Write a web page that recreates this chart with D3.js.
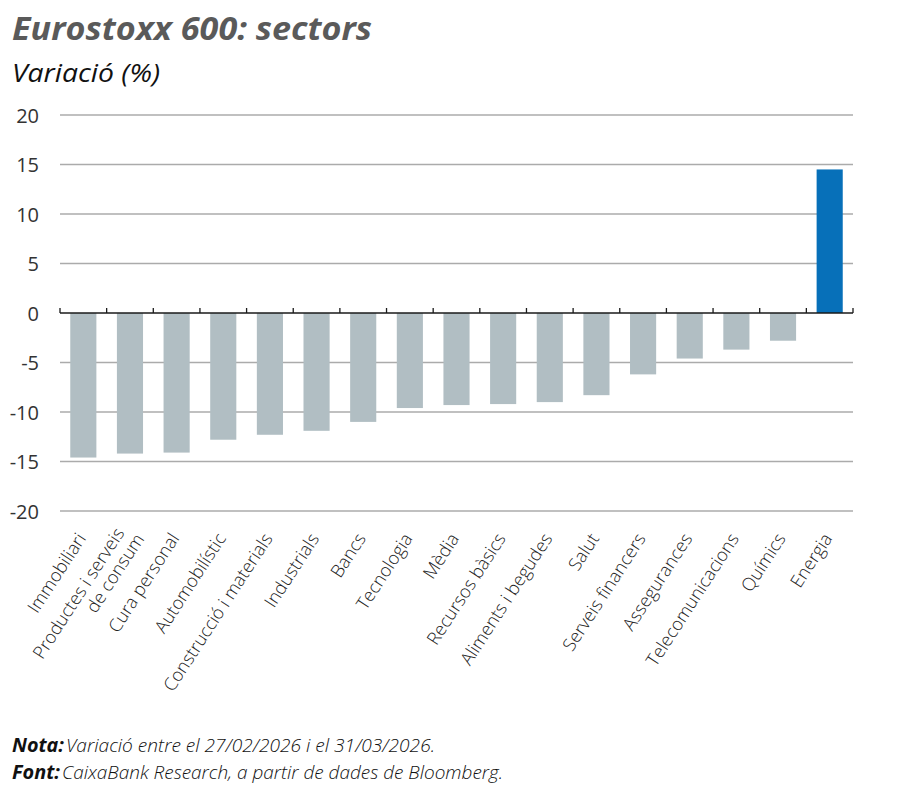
<!DOCTYPE html>
<html>
<head>
<meta charset="utf-8">
<script src="https://cdn.jsdelivr.net/npm/d3@7"></script>
<style>
  html, body { margin: 0; padding: 0; background: #fff; }
  svg { display: block; }
</style>
</head>
<body>
<svg id="chart" width="900" height="803"></svg>
<script>
const categories = [
  ["Immobiliari"],
  ["Productes i serveis", "de consum"],
  ["Cura personal"],
  ["Automobilístic"],
  ["Construcció i materials"],
  ["Industrials"],
  ["Bancs"],
  ["Tecnologia"],
  ["Mèdia"],
  ["Recursos bàsics"],
  ["Aliments i begudes"],
  ["Salut"],
  ["Serveis financers"],
  ["Assegurances"],
  ["Telecomunicacions"],
  ["Químics"],
  ["Energia"]
];
const values = [-14.6, -14.2, -14.1, -12.8, -12.3, -11.9, -11.0, -9.6, -9.3, -9.2, -9.0, -8.3, -6.2, -4.6, -3.7, -2.8, 14.5];
const highlight = ["Energia"];
const yTicks = [20, 15, 10, 5, 0, -5, -10, -15, -20];
const title = "Eurostoxx 600: sectors";
const subtitle = "Variació (%)";
const notes = [
  ["Nota:", " Variació entre el 27/02/2026 i el 31/03/2026."],
  ["Font:", " CaixaBank Research, a partir de dades de Bloomberg."]
];

const svg = d3.select("#chart");
const keys = categories.map(c => c.join(" "));
const data = keys.map((k, i) => ({ key: k, lines: categories[i], value: values[i] }));

const x = d3.scaleBand().domain(keys).range([60, 853]).paddingInner(0.44).paddingOuter(0.22);
const y = d3.scaleLinear().domain([-20, 20]).range([511, 115]);

// Title
svg.append("text").attr("x", 12).attr("y", 40)
  .attr("font-family", "Open Sans").attr("font-weight", 700).attr("font-style", "italic")
  .attr("font-size", 32).attr("fill", "#5a5a5a")
  .attr("textLength", 360).attr("lengthAdjust", "spacingAndGlyphs")
  .text(title);
svg.append("text").attr("x", 12).attr("y", 82)
  .attr("font-family", "Open Sans").attr("font-style", "italic")
  .attr("font-size", 26).attr("fill", "#111")
  .attr("textLength", 148).attr("lengthAdjust", "spacingAndGlyphs")
  .text(subtitle);

// Grid
const grid = svg.append("g");
grid.selectAll("line").data(yTicks.filter(t => t !== 0)).join("line")
  .attr("x1", 60).attr("x2", 853)
  .attr("y1", d => y(d)).attr("y2", d => y(d))
  .attr("stroke", "#ababab").attr("stroke-width", 1.3);

// Y axis labels
const yAxis = d3.axisLeft(y).tickValues(yTicks).tickSize(0).tickPadding(0).tickFormat(d => String(d));
const ga = svg.append("g").attr("transform", "translate(39,0)").call(yAxis);
ga.select(".domain").remove();
ga.selectAll("text").attr("font-family", "Open Sans").attr("font-size", 20)
  .attr("fill", "#333").attr("dy", "0.36em");

// Bars
svg.append("g").selectAll("rect").data(data).join("rect")
  .attr("x", d => x(d.key))
  .attr("width", x.bandwidth())
  .attr("y", d => y(Math.max(0, d.value)))
  .attr("height", d => Math.abs(y(d.value) - y(0)))
  .attr("fill", d => highlight.includes(d.key) ? "#0770b9" : "#b1bec3");

// Zero axis line + ticks at band boundaries
const step = x.step();
const x0 = x.range()[0];
svg.append("line").attr("x1", 60).attr("x2", 853).attr("y1", y(0)).attr("y2", y(0))
  .attr("stroke", "#1a1a1a").attr("stroke-width", 1.5);
const bounds = d3.range(keys.length + 1).map(i => x0 + i * step);
svg.append("g").selectAll("line").data(bounds).join("line")
  .attr("x1", d => d).attr("x2", d => d)
  .attr("y1", y(0)).attr("y2", y(0) - 5)
  .attr("stroke", "#1a1a1a").attr("stroke-width", 1.3);

// X labels
const xl = svg.append("g").selectAll("text").data(data).join("text")
  .attr("transform", d => `translate(${x(d.key) + x.bandwidth() / 2 - 2},${535}) rotate(-57)`)
  .attr("text-anchor", "end")
  .attr("font-family", "Open Sans").attr("font-weight", 300)
  .attr("font-size", 18).attr("fill", "#222");
xl.each(function(d) {
  const t = d3.select(this);
  const n = d.lines.length;
  d.lines.forEach((ln, i) => {
    t.append("tspan").attr("x", n > 1 && i === 1 ? 6 : 0)
      .attr("y", 0)
      .attr("dy", (i - (n - 1) / 2) * 1.1 + 0.35 + "em")
      .text(ln);
  });
});

// Notes
const noteLayout = [{ bold: 52, rest: 369 }, { bold: 48, rest: 441 }];
notes.forEach((n, i) => {
  const base = 752 + i * 27;
  svg.append("text").attr("x", 12).attr("y", base)
    .attr("font-family", "Open Sans").attr("font-style", "italic").attr("font-weight", 700)
    .attr("font-size", 19).attr("fill", "#111")
    .attr("textLength", noteLayout[i].bold).attr("lengthAdjust", "spacingAndGlyphs")
    .text(n[0]);
  svg.append("text").attr("x", 12 + noteLayout[i].bold + 2).attr("y", base)
    .attr("font-family", "Open Sans").attr("font-style", "italic").attr("font-weight", 300)
    .attr("font-size", 19).attr("fill", "#111")
    .attr("textLength", noteLayout[i].rest).attr("lengthAdjust", "spacingAndGlyphs")
    .text(n[1].trim());
});
</script>
</body>
</html>
